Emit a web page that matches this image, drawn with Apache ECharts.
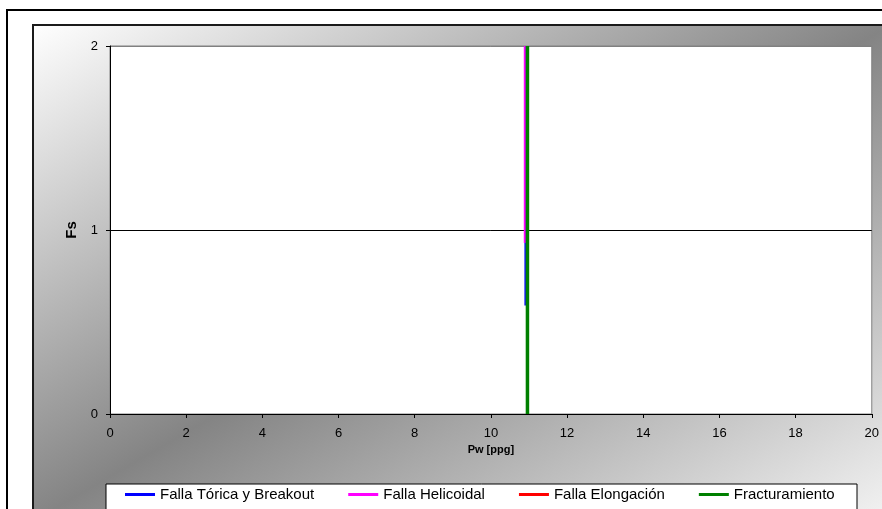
<!DOCTYPE html>
<html><head><meta charset="utf-8">
<script src="https://cdn.jsdelivr.net/npm/echarts@6/dist/echarts.min.js"></script>
<style>html,body{margin:0;padding:0;background:#fff}#c{width:882px;height:509px}</style>
</head><body><div id="c"></div>
<script>
var seriesNames = ['Falla Tórica y Breakout', 'Falla Helicoidal', 'Falla Elongación', 'Fracturamiento'];
var seriesColors = ['#0000ff', '#ff00ff', '#ff0000', '#008000'];
var toricaData = [[10.90, 0.59], [10.90, 2.0]];
var helicoidalData = [[10.89, 0.93], [10.89, 2.0]];
var elongacionData = [[10.96, 0.0], [10.96, 2.0]];
var fracturaData = [[10.96, 0.0], [10.96, 2.0]];
var xTicks = [0, 20, 2];
var yTicks = [0, 2, 1];

var font = 'Liberation Sans, Arial, sans-serif';
var chart = echarts.init(document.getElementById('c'), null, {renderer: 'canvas'});
var widths = [1.5, 2, 2, 3.5];
var datas = [toricaData, helicoidalData, elongacionData, fracturaData];
var series = seriesNames.map(function (n, i) {
  return {
    name: n, type: 'line', data: datas[i], symbol: 'none', silent: true,
    lineStyle: {color: seriesColors[i], width: widths[i]},
    itemStyle: {color: seriesColors[i]}, animation: false
  };
});
chart.setOption({
  animation: false,
  textStyle: {fontFamily: font},
  graphic: [
    {type: 'rect', z: -30, shape: {x: 7, y: 10, width: 900, height: 600},
     style: {fill: '#ffffff', stroke: '#000', lineWidth: 2}},
    {type: 'rect', z: -20, shape: {x: 33, y: 25, width: 860, height: 495},
     style: {fill: new echarts.graphic.LinearGradient(0.25, -0.25, 0.75, 1.25, [
        {offset: 0, color: '#ffffff'}, {offset: 0.5, color: '#848484'}, {offset: 1, color: '#f4f4f4'}]),
       stroke: '#1a1a1a', lineWidth: 2}},
    {type: 'rect', z: -10, shape: {x: 106, y: 484, width: 751, height: 40},
     style: {fill: '#ffffff', stroke: '#000', lineWidth: 1}}
  ],
  grid: {left: 110, top: 46, right: 10, bottom: 95, show: true, backgroundColor: '#ffffff',
         borderColor: '#808080', borderWidth: 1},
  legend: {
    data: seriesNames, left: 125, top: 487, padding: 0, itemGap: 34,
    icon: 'rect', itemWidth: 30, itemHeight: 3,
    textStyle: {fontFamily: font, fontSize: 15, color: '#000'},
    selectedMode: false
  },
  xAxis: {
    type: 'value', min: xTicks[0], max: xTicks[1], interval: xTicks[2],
    name: 'Pw [ppg]', nameLocation: 'middle', nameGap: 28,
    nameTextStyle: {fontFamily: font, fontSize: 11, fontWeight: 'bold', color: '#000'},
    axisLine: {show: true, lineStyle: {color: '#000', width: 1}},
    axisTick: {show: true, length: 4, lineStyle: {color: '#000'}},
    axisLabel: {fontSize: 13, color: '#000', margin: 13, fontFamily: font},
    splitLine: {show: false}
  },
  yAxis: {
    type: 'value', min: yTicks[0], max: yTicks[1], interval: yTicks[2],
    name: 'Fs', nameLocation: 'middle', nameGap: 31,
    nameTextStyle: {fontFamily: font, fontSize: 15, fontWeight: 'bold', color: '#000'},
    axisLine: {show: true, lineStyle: {color: '#000', width: 1}},
    axisTick: {show: true, length: 4, lineStyle: {color: '#000'}},
    axisLabel: {fontSize: 13, color: '#000', margin: 12, fontFamily: font},
    splitLine: {show: true, lineStyle: {color: ['#000', '#000', '#808080'], width: 1}}
  },
  series: series
});
</script></body></html>
